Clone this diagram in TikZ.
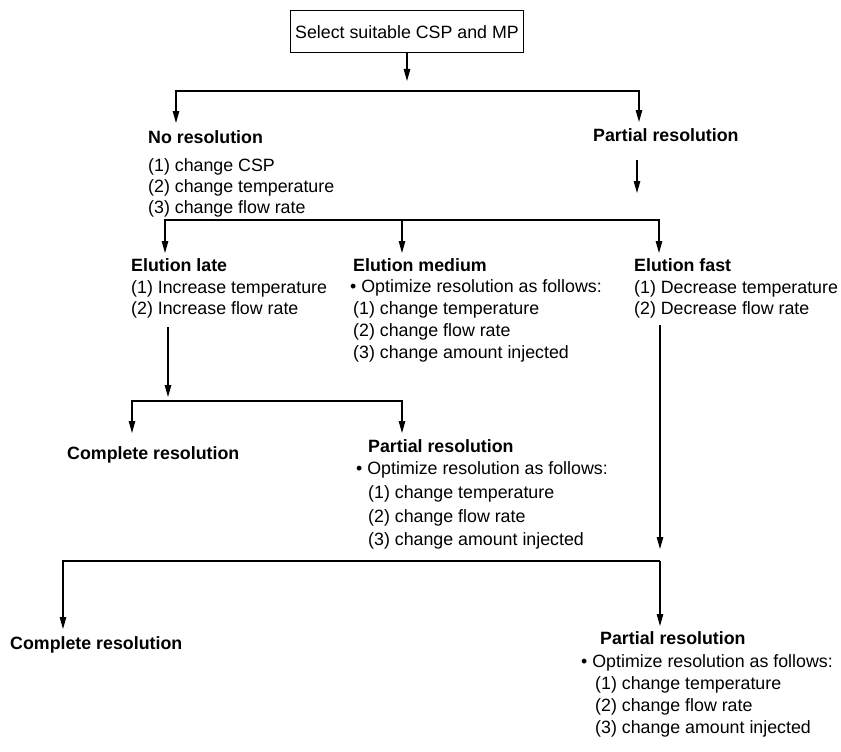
\documentclass[tikz,border=0pt]{standalone}
\usepackage{fontspec}
\setmainfont{Liberation Sans}
\usetikzlibrary{arrows.meta}

\begin{document}
\begin{tikzpicture}[
  x=1pt,y=-1pt,
  every node/.style={font=\fontsize{17.8pt}{21pt}\selectfont,inner sep=0pt},
  head/.style={anchor=base west,font=\fontsize{17.8pt}{21pt}\selectfont\bfseries},
  item/.style={anchor=base west},
  link/.style={line width=1.2pt},
  arr/.style={link,-{Triangle[length=12pt,width=6.5pt]}},
  startbox/.style={draw,line width=1pt,inner xsep=4.5pt,minimum height=42pt}]

  \useasboundingbox (0,0) rectangle (841,752);

  \node[startbox] (sel) at (407,32) {Select suitable CSP and MP};

  \node[head] (nores) at (148,143) {No resolution};
  \foreach \t [count=\i] in {change CSP,change temperature,change flow rate}
    \node[item] (nores-\i) at (148,{150+21*\i}) {(\i) \t};
  \node[head] (partA) at (593,141) {Partial resolution};

  \node[head] (late) at (131,271) {Elution late};
  \foreach \t [count=\i] in {Increase temperature,Increase flow rate}
    \node[item] (late-\i) at (131,{272+21*\i}) {(\i) \t};

  \node[head] (med) at (353,271) {Elution medium};
  \node[item] (med-opt) at (350,292) {\textbullet\ Optimize resolution as follows:};
  \foreach \t [count=\i] in {change temperature,change flow rate,change amount injected}
    \node[item] (med-\i) at (353,{292+22*\i}) {(\i) \t};

  \node[head] (fast) at (634,271) {Elution fast};
  \foreach \t [count=\i] in {Decrease temperature,Decrease flow rate}
    \node[item] (fast-\i) at (634,{272+21*\i}) {(\i) \t};

  \node[head] (compB) at (67,459) {Complete resolution};
  \node[head] (partB) at (368,452) {Partial resolution};
  \node[item] (partB-opt) at (356,474) {\textbullet\ Optimize resolution as follows:};
  \foreach \t [count=\i] in {change temperature,change flow rate,change amount injected}
    \node[item] (partB-\i) at (368,{475+23.5*\i}) {(\i) \t};

  \node[head] (compC) at (10,649) {Complete resolution};
  \node[head] (partC) at (600,644) {Partial resolution};
  \node[item] (partC-opt) at (581,667) {\textbullet\ Optimize resolution as follows:};
  \foreach \t [count=\i] in {change temperature,change flow rate,change amount injected}
    \node[item] (partC-\i) at (595,{667+22*\i}) {(\i) \t};

  % first split
  \coordinate (s1) at (407,81);
  \coordinate (b1) at (407,91);
  \coordinate (nores-in) at (176,123);
  \coordinate (partA-in) at (639,122);
  \draw[arr] (sel) -- (s1);
  \draw[arr] (b1) -| (nores-in);
  \draw[arr] (b1) -| (partA-in);

  % partial resolution -> elution
  \coordinate (partA-out) at (637,160);
  \coordinate (partA-tip) at (637,193);
  \draw[arr] (partA-out) -- (partA-tip);
  \coordinate (b2) at (402,220);
  \coordinate (late-in) at (165,253);
  \coordinate (med-in) at (402,253);
  \coordinate (fast-in) at (659,253);
  \draw[arr] (b2) -| (late-in);
  \draw[arr] (b2) -- (med-in);
  \draw[arr] (b2) -| (fast-in);

  % elution late
  \coordinate (late-out) at (168,327);
  \coordinate (late-tip) at (168,397);
  \draw[arr] (late-out) -- (late-tip);
  \coordinate (b3) at (168,401);
  \coordinate (compB-in) at (132,433);
  \coordinate (partB-in) at (402,433);
  \draw[arr] (b3) -| (compB-in);
  \draw[arr] (b3) -| (partB-in);

  % elution fast
  \coordinate (fast-out) at (660,325);
  \coordinate (fast-tip) at (660,549);
  \draw[arr] (fast-out) -- (fast-tip);
  \coordinate (b4) at (660,561);
  \coordinate (compC-in) at (63,629);
  \coordinate (partC-in) at (660,626);
  \draw[arr] (b4) -| (compC-in);
  \draw[arr] (b4) -- (partC-in);
\end{tikzpicture}
\end{document}
